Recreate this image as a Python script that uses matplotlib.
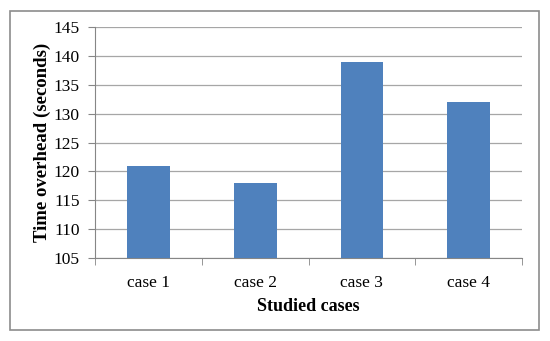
import matplotlib.pyplot as plt
from matplotlib.patches import Rectangle

# data
cases = ["case 1", "case 2", "case 3", "case 4"]
overhead = [121, 118, 139, 132]
y_ticks = [105, 110, 115, 120, 125, 130, 135, 140, 145]

plt.rcParams["font.family"] = ["Liberation Serif", "DejaVu Serif"]

fig = plt.figure(figsize=(5.5, 3.41), dpi=100)
fig.patches.append(Rectangle((10 / 550, 11 / 341), 529 / 550, 319 / 341,
                             transform=fig.transFigure, fill=False,
                             edgecolor="#8c8c8c", linewidth=1.2))

ax = fig.add_axes([0.173, 0.243, 0.776, 0.678])
x = range(len(cases))
ax.bar(x, overhead, width=0.4, color="#4F81BD", zorder=3)

ax.set_ylim(105, 145)
ax.set_yticks(y_ticks)
ax.set_xlim(-0.5, len(cases) - 0.5)
ax.set_xticks(list(x))
ax.set_xticklabels(cases)
ax.set_xticks([i + 0.5 for i in range(-1, len(cases))], minor=True)
ax.tick_params(axis="x", which="major", length=0, labelsize=12.5, pad=12)
ax.tick_params(axis="x", which="minor", length=5, color="#868686")
ax.tick_params(axis="y", length=5, color="#868686", labelsize=12.5, pad=6)

ax.grid(axis="y", color="#a6a6a6", linewidth=0.9, zorder=0)
for side in ["top", "right"]:
    ax.spines[side].set_visible(False)
for side in ["left", "bottom"]:
    ax.spines[side].set_color("#868686")

ax.set_xlabel("Studied cases", fontsize=13, fontweight="bold", labelpad=5)
ax.set_ylabel("Time overhead (seconds)", fontsize=13.5, fontweight="bold", labelpad=2)

fig.savefig("out.png", dpi=100)
